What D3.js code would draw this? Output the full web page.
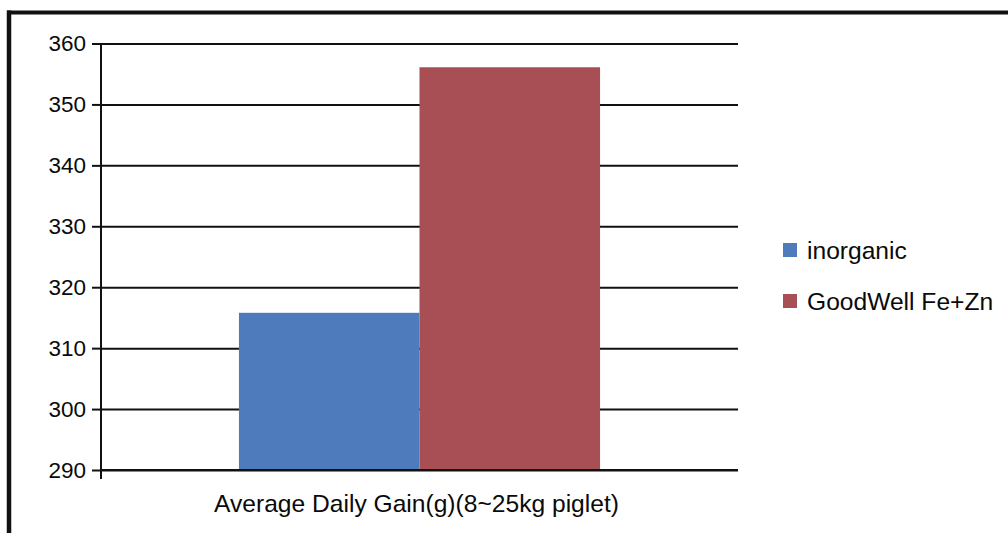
<!DOCTYPE html>
<html>
<head>
<meta charset="utf-8">
<script src="https://cdn.jsdelivr.net/npm/d3@7"></script>
<style>
  html, body { margin: 0; padding: 0; background: #fff; }
  svg { display: block; }
  text { font-family: "Liberation Sans", Arial, sans-serif; fill: #0a0a0a; }
</style>
</head>
<body>
<svg id="chart" width="1008" height="533"></svg>
<script>
const categories = ["Average Daily Gain(g)(8~25kg piglet)"];
const seriesNames = ["inorganic", "GoodWell Fe+Zn"];
const seriesValues = [[315.8], [356.1]];
const seriesColors = ["#4d7bbb", "#a84f55"];
const yTicks = [290, 300, 310, 320, 330, 340, 350, 360];

const svg = d3.select("#chart");
const W = 1008, H = 533;
const plot = { left: 101, right: 738, top: 43.5, bottom: 470 };

// outer frame (top and left border)
svg.append("line").attr("x1", 7).attr("x2", W).attr("y1", 12.5).attr("y2", 12.5)
  .attr("stroke", "#111").attr("stroke-width", 4);
svg.append("line").attr("x1", 9).attr("x2", 9).attr("y1", 10.5).attr("y2", H)
  .attr("stroke", "#111").attr("stroke-width", 4.5);

const y = d3.scaleLinear().domain([290, 360]).range([plot.bottom, plot.top]);
const x0 = d3.scaleBand().domain(categories).range([plot.left, plot.right])
  .paddingInner(0).paddingOuter(0.382);
const x1 = d3.scaleBand().domain(seriesNames).range([0, x0.bandwidth()]).padding(0);

// gridlines
const grid = svg.append("g").attr("transform", `translate(${plot.left},0)`)
  .call(d3.axisLeft(y).tickValues(yTicks).tickSize(-(plot.right - plot.left)).tickFormat(""));
grid.select(".domain").remove();
grid.selectAll(".tick line").attr("stroke", "#111").attr("stroke-width", 2);

// bars
const data = [];
categories.forEach((c, ci) => seriesNames.forEach((s, si) => data.push({ c, s, v: seriesValues[si][ci], color: seriesColors[si] })));
svg.append("g").selectAll("rect").data(data).join("rect")
  .attr("x", d => x0(d.c) + x1(d.s))
  .attr("width", x1.bandwidth())
  .attr("y", d => y(d.v))
  .attr("height", d => y(290) - y(d.v))
  .attr("fill", d => d.color);

// baseline
svg.append("line").attr("x1", plot.left).attr("x2", plot.right)
  .attr("y1", y(290)).attr("y2", y(290)).attr("stroke", "#111").attr("stroke-width", 2);

// y axis
const yAxis = svg.append("g").attr("transform", `translate(${plot.left},0)`)
  .call(d3.axisLeft(y).tickValues(yTicks).tickSize(9).tickSizeOuter(0).tickPadding(6));
yAxis.select(".domain").remove();
yAxis.selectAll(".tick line").attr("stroke", "#111").attr("stroke-width", 2);
yAxis.selectAll(".tick text").attr("font-size", 22.5).style("font-family", "'Liberation Sans', Arial, sans-serif").attr("fill", "#0a0a0a");
svg.append("line").attr("x1", plot.left).attr("x2", plot.left)
  .attr("y1", y(360)).attr("y2", y(290) + 9).attr("stroke", "#111").attr("stroke-width", 2);

// category label
svg.append("g").selectAll("text").data(categories).join("text")
  .attr("x", d => x0(d) + x0.bandwidth() / 2 - 3)
  .attr("y", 512)
  .attr("text-anchor", "middle")
  .attr("font-size", 24.6)
  .text(d => d);

// legend
const legend = svg.append("g").attr("transform", "translate(783,243)");
const li = legend.selectAll("g").data(seriesNames).join("g")
  .attr("transform", (d, i) => `translate(0,${i * 51})`);
li.append("rect").attr("width", 14).attr("height", 14).attr("fill", (d, i) => seriesColors[i]);
li.append("text").attr("x", 24).attr("y", 15.5).attr("font-size", 24.6).text(d => d);
</script>
</body>
</html>
